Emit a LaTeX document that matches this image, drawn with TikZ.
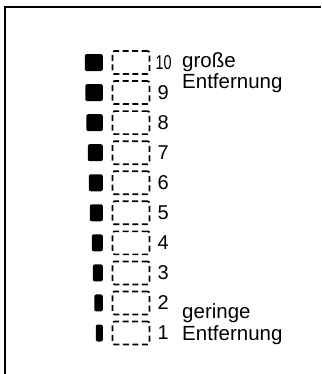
\documentclass[tikz,border=0pt]{standalone}
\usepackage{fontspec}
\setmainfont{Liberation Sans}
\begin{document}
\begin{tikzpicture}[x=1pt,y=-1pt,
  frameline/.style={line width=1.6pt},
  dbox/.style={draw,line width=1.7pt,dash pattern=on 6pt off 3.5pt,rounded corners=2pt,minimum width=37pt,minimum height=23pt,inner sep=0pt},
  fbox/.style={fill=black,draw=none,rounded corners=2pt,minimum height=17pt,inner sep=0pt},
  numlab/.style={anchor=west,inner sep=0pt,font=\fontsize{20}{21}\selectfont},
  txt/.style={anchor=base west,inner sep=0pt,font=\fontsize{20.5}{21}\selectfont}]
\useasboundingbox (0,0) rectangle (321,374);
\coordinate (tl) at (5,7);
\coordinate (tr) at (321,7);
\coordinate (bl) at (5,374);
\draw[frameline] (tr) -- (tl) -- (bl);
\foreach \i/\w in {1/7,2/8.5,3/10,4/11,5/13,6/14,7/15,8/16.5,9/17.5,10/18}{
  \pgfmathsetmacro{\yc}{333-(\i-1)*30.05}
  \node[dbox] (d\i) at (131,\yc) {};
  \node[fbox,minimum width=\w pt,anchor=east] (f\i) at (103,\yc) {};
}
\foreach \i in {1,...,9}{
  \node[numlab] (n\i) at ([xshift=7pt,yshift=0pt]d\i.east) {\i};
}
\node[numlab] (n10) at ([xshift=5pt,yshift=0pt]d10.east) {\scalebox{0.72}[1]{10}};
\node[txt] (g1) at (182,68) {große};
\node[txt] (g2) at (182,89) {Entfernung};
\node[txt] (k1) at (182,318) {geringe};
\node[txt] (k2) at (182,340) {Entfernung};
\end{tikzpicture}
\end{document}
